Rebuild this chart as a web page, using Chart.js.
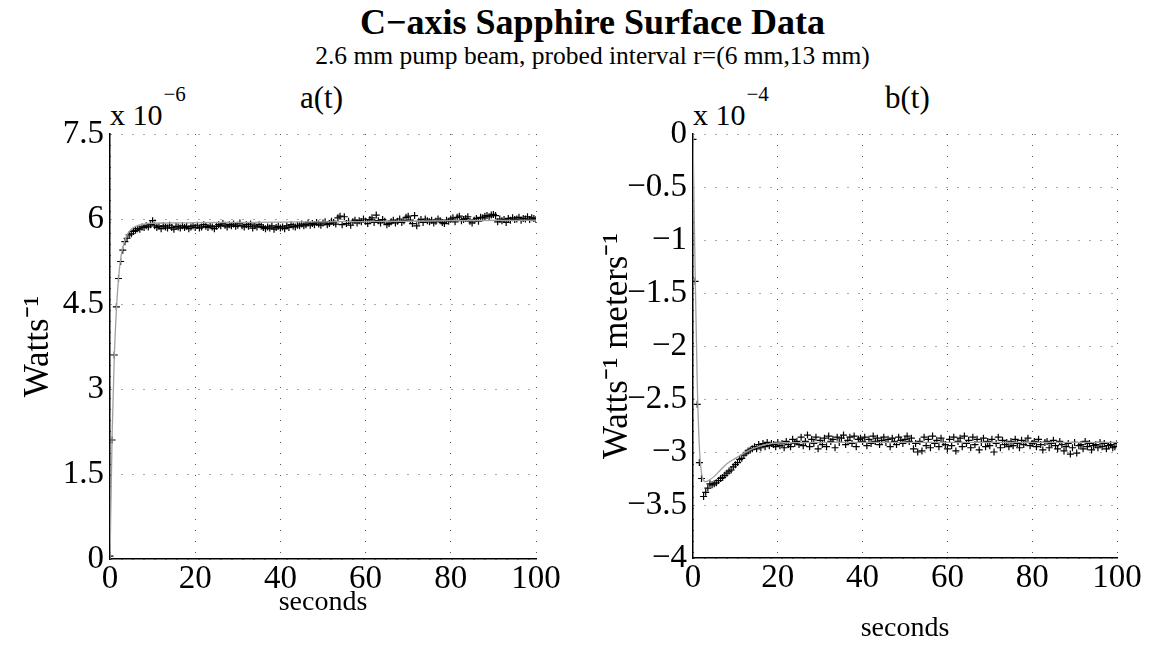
<!DOCTYPE html>
<html>
<head>
<meta charset="utf-8">
<script src="https://cdn.jsdelivr.net/npm/chart.js@4.4.1/dist/chart.umd.min.js"></script>
<style>
  body { margin: 0; background: #fff; width: 1151px; height: 647px; overflow: hidden; position: relative; font-family: 'Liberation Serif', 'Times New Roman', serif; }
  .box { position: absolute; top: 0; height: 647px; }
  .txt { position: absolute; white-space: nowrap; color: #000; line-height: 1; }
  .sup { font-size: 21px; position: relative; top: -24px; margin-left: 1px; }
</style>
</head>
<body>
<div class="txt" style="left:17px;width:1151px;text-align:center;top:4px;font-size:36px;font-weight:bold;">C&minus;axis Sapphire Surface Data</div>
<div class="txt" style="left:17px;width:1151px;text-align:center;top:43px;font-size:25.5px;">2.6 mm pump beam, probed interval r=(6 mm,13 mm)</div>
<div class="txt" style="left:110px;top:100px;font-size:30px;">x 10<span class="sup">&minus;6</span></div>
<div class="txt" style="left:300px;top:82px;font-size:31px;">a(t)</div>
<div class="txt" style="left:693px;top:100px;font-size:30px;">x 10<span class="sup">&minus;4</span></div>
<div class="txt" style="left:885px;top:82px;font-size:31px;">b(t)</div>
<div class="box" style="left:0;width:575px;"><canvas id="chartA"></canvas></div>
<div class="box" style="left:575px;width:576px;"><canvas id="chartB"></canvas></div>
<script>
// sample step of the measurements, seconds
var DT = 0.5;

// a(t), units of 1e-6 Watts^-1, one value every 0.5 s from 0 to 100 s
var aData = [
  0.05, 2.1, 3.6, 4.45, 4.95, 5.25, 5.45, 5.6, 5.66, 5.72,
  5.74, 5.78, 5.8, 5.83, 5.82, 5.86, 5.85, 5.88, 5.86, 5.9,
  5.97, 5.88, 5.85, 5.87, 5.83, 5.88, 5.86, 5.84, 5.89, 5.85,
  5.82, 5.87, 5.86, 5.84, 5.88, 5.85, 5.87, 5.83, 5.86, 5.88,
  5.85, 5.89, 5.84, 5.86, 5.9, 5.87, 5.85, 5.88, 5.86, 5.83,
  5.87, 5.9, 5.88, 5.92, 5.89, 5.86, 5.9, 5.88, 5.91, 5.87,
  5.89, 5.93, 5.88, 5.86, 5.9, 5.87, 5.91, 5.84, 5.88, 5.86,
  5.9, 5.87, 5.85, 5.83, 5.86, 5.84, 5.88, 5.82, 5.85, 5.87,
  5.84, 5.86, 5.83, 5.88, 5.85, 5.9, 5.87, 5.86, 5.89, 5.88,
  5.91, 5.88, 5.9, 5.93, 5.89, 5.92, 5.9, 5.94, 5.91, 5.89,
  5.93, 5.95, 5.9, 5.92, 5.96, 5.94, 5.91, 6.02, 6.05, 5.9,
  6.04, 5.92, 5.96, 5.89, 5.95, 5.98, 5.93, 5.97, 5.95, 6.0,
  5.96, 5.92, 5.99, 6.02, 5.94, 6.07, 5.97, 5.93, 5.99, 5.96,
  5.9, 5.92, 5.95, 5.98, 5.93, 5.96, 6.0, 5.94, 5.97, 6.03,
  6.05, 5.98, 5.92, 6.06, 5.88, 5.96, 5.99, 5.94, 6.0, 5.97,
  5.95, 5.98, 5.93, 5.96, 6.0, 5.97, 5.94, 5.92, 5.98, 5.96,
  6.0, 6.02, 5.95, 6.03, 6.05, 5.97, 5.99, 6.01, 6.04, 5.96,
  5.93, 5.98, 6.01, 5.96, 6.03, 6.02, 6.05, 6.06, 6.04, 6.07,
  6.08, 6.06, 5.95, 6.0, 5.97, 5.99, 5.94, 6.01, 5.98, 6.02,
  5.99, 6.0, 6.03, 5.98, 6.01, 6.0, 6.04, 5.99, 6.02, 6.01,
  5.99
];

// b(t), units of 1e-4 Watts^-1 meters^-1, same sampling
var bData = [
  -0.05, -1.39, -2.55, -3.1, -3.25, -3.42, -3.38, -3.34, -3.3, -3.31,
  -3.3, -3.29, -3.27, -3.25, -3.24, -3.22, -3.2, -3.18, -3.17, -3.14,
  -3.12, -3.1, -3.07, -3.06, -3.03, -3.01, -2.99, -2.98, -2.97, -2.95,
  -2.97, -2.93, -2.96, -2.92, -2.95, -2.91, -2.94, -2.92, -2.93, -2.95,
  -2.91, -2.94, -2.92, -2.96, -2.9, -2.93, -2.95, -2.88, -2.92, -2.9,
  -2.93, -2.86, -2.94, -2.9, -2.84, -2.95, -2.88, -2.92, -2.86, -2.97,
  -2.89, -2.93, -2.87, -2.95, -2.85, -2.9, -2.88, -2.96, -2.86, -2.91,
  -2.87, -2.84, -2.93, -2.89, -2.86, -2.92, -2.85, -2.95, -2.88, -2.87,
  -2.9, -2.86, -2.94, -2.88, -2.92, -2.85, -2.9, -2.87, -2.93, -2.89,
  -2.86, -2.91, -2.88, -2.95, -2.87, -2.9, -2.93, -2.86, -2.89, -2.92,
  -2.88, -2.85, -2.9, -2.87, -2.97, -2.92, -3.0, -2.9, -2.99, -2.86,
  -2.94, -2.88, -2.96, -2.85, -2.92, -2.89, -2.95, -2.87, -2.91, -2.93,
  -2.97, -2.88, -2.94, -2.86, -2.99, -2.9, -2.87, -2.95, -2.85, -2.92,
  -2.89, -2.96, -2.86, -2.93, -2.88, -2.98, -2.91, -2.87, -2.95, -2.9,
  -2.94, -2.88, -3.0, -2.92, -2.86, -2.96, -2.89, -2.93, -2.91, -2.95,
  -2.9, -2.94, -2.88, -2.92, -2.96, -2.89, -2.93, -2.91, -2.87, -2.94,
  -2.92, -2.9, -2.95, -2.88, -2.93, -2.98, -2.91, -2.9, -2.96, -2.92,
  -2.89, -2.94, -2.97, -2.9, -2.93, -2.99, -2.95, -2.92, -3.02, -2.96,
  -2.91, -3.01, -2.94, -2.93, -2.97, -2.9, -2.95, -2.92, -2.98, -2.94,
  -2.93, -2.96, -2.91, -2.95, -2.92, -2.97, -2.94, -2.93, -2.96, -2.95,
  -2.92
];

// fitted curves
var aFitT = [0, 0.5, 1, 1.5, 2, 2.5, 3, 4, 5, 6, 8, 10, 15, 20, 30, 40, 50, 60, 70, 80, 90, 100];
var aFitV = [0, 2.2, 3.55, 4.4, 4.95, 5.3, 5.5, 5.72, 5.82, 5.87, 5.91, 5.925, 5.93, 5.935, 5.94, 5.945, 5.95, 5.955, 5.96, 5.97, 5.975, 5.98];
var bFitT = [0, 0.5, 1, 1.5, 2, 2.5, 3, 4, 5, 6, 8, 10, 12, 14, 17, 20, 30, 100];
var bFitV = [0, -1.3, -2.35, -2.95, -3.2, -3.27, -3.28, -3.26, -3.23, -3.19, -3.11, -3.06, -3.01, -2.97, -2.93, -2.915, -2.91, -2.91];

var xTicks = [0, 20, 40, 60, 80, 100];
var aTicks = [0, 1.5, 3, 4.5, 6, 7.5];
var bTicks = [-4, -3.5, -3, -2.5, -2, -1.5, -1, -0.5, 0];

var FONT = "'Liberation Serif', 'Times New Roman', serif";

function pts(xs, ys) {
  var out = [];
  for (var i = 0; i < ys.length; i++) out.push({x: xs[i], y: ys[i]});
  return out;
}
var times = [];
for (var i = 0; i < aData.length; i++) times.push(i * DT);

function fmt(v) {
  var s = String(Math.abs(v));
  return v < 0 ? '\u2212' + s : s;
}

function makeChart(id, data, fitT, fitV, yTicks, opt) {
  var ctx = document.getElementById(id);
  return new Chart(ctx, {
    type: 'scatter',
    data: {
      datasets: [
        {
          label: 'fit',
          data: pts(fitT, fitV),
          showLine: true,
          borderColor: '#a0a0a0',
          borderWidth: 1.3,
          pointRadius: 0,
          cubicInterpolationMode: 'monotone',
          order: 0
        },
        {
          label: 'data',
          data: pts(times, data),
          pointStyle: 'cross',
          pointRadius: 3.5,
          borderColor: '#000',
          borderWidth: 1.2,
          order: 1
        }
      ]
    },
    options: {
      responsive: false,
      animation: false,
      events: [],
      layout: { padding: { top: 134, right: opt.right, left: 0, bottom: 0 } },
      plugins: { legend: { display: false }, tooltip: { enabled: false } },
      scales: {
        x: {
          type: 'linear',
          min: 0, max: 100,
          afterBuildTicks: function (s) { s.ticks = xTicks.map(function (v) { return {value: v}; }); },
          afterFit: function (s) { s.height = opt.xh; },
          ticks: { font: { family: FONT, size: 33 }, color: '#000', padding: 1 },
          grid: { color: '#555', lineWidth: 1, drawTicks: false },
          border: { color: '#000', width: 1.5, dash: [1, 10] },
          title: { display: true, text: 'seconds', font: { family: FONT, size: 28 }, color: '#000', padding: { top: 0, bottom: opt.xtb } }
        },
        y: {
          type: 'linear',
          min: yTicks[0], max: yTicks[yTicks.length - 1],
          afterBuildTicks: function (s) { s.ticks = yTicks.map(function (v) { return {value: v}; }); },
          afterFit: function (s) { s.width = opt.yw; },
          ticks: { font: { family: FONT, size: 33 }, color: '#000', padding: 6, callback: function (v) { return fmt(v); } },
          grid: { color: '#555', lineWidth: 1, drawTicks: false },
          border: { color: '#000', width: 1.5, dash: [1, 10] },
          title: { display: true, text: opt.ytitle, font: { family: FONT, size: 35 }, color: '#000', padding: { top: opt.ytp, bottom: 0 } }
        }
      }
    }
  });
}

var ca = document.getElementById('chartA');
ca.width = 575; ca.height = 647;
var cb = document.getElementById('chartB');
cb.width = 576; cb.height = 647;

makeChart('chartA', aData, aFitT, aFitV, aTicks, { right: 39, xh: 88, yw: 110, ytitle: 'Watts\u207B\u00B9', ytp: 18, xtb: 28 });
makeChart('chartB', bData, bFitT, bFitV, bTicks, { right: 34, xh: 89, yw: 118, ytitle: 'Watts\u207B\u00B9 meters\u207B\u00B9', ytp: 22, xtb: 2 });
</script>
</body>
</html>
